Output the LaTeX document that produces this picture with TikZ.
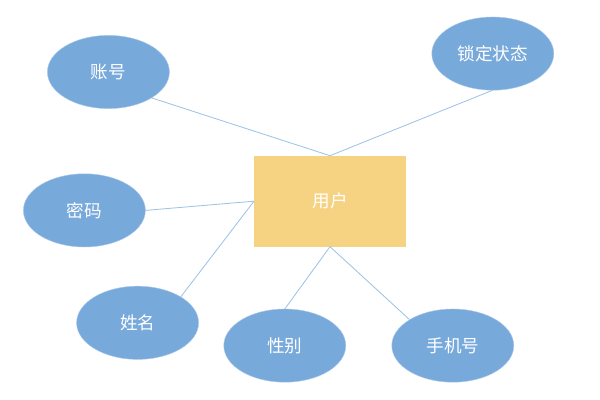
\documentclass[tikz,border=0pt]{standalone}
\usepackage{fontspec}
\newfontfamily\cjk{Noto Sans CJK SC}
\usetikzlibrary{shapes.geometric}
\definecolor{attrblue}{HTML}{78A9DB}
\definecolor{entityyellow}{HTML}{F6D283}
\definecolor{linkblue}{HTML}{9DC3E6}

\begin{document}
\begin{tikzpicture}[
    attr/.style={ellipse, fill=attrblue, draw=attrblue!60!white, line width=0.3pt,
        minimum width=3.05cm, minimum height=1.83cm, inner sep=0pt, outer sep=0pt,
        text=white, font=\cjk\fontsize{12.5}{14}\selectfont},
    entity/.style={rectangle, fill=entityyellow, minimum width=3.8cm,
        minimum height=2.275cm, inner sep=0pt, outer sep=0pt,
        text=white, font=\cjk\fontsize{12.5}{14}\selectfont},
    link/.style={draw=linkblue, line width=0.6pt}
]
            % Page frame
            \useasboundingbox (0,0) rectangle (15,10);

            % Entity
            \node[entity] (user) at (8.25,4.97) {用户};

            % Attributes
            \foreach \nm/\pos/\txt in {account/{2.71,8.2}/账号, lock/{12.32,8.66}/锁定状态,
                    password/{2.11,4.74}/密码, name/{3.44,1.93}/姓名,
                    gender/{7.12,1.36}/性别, phone/{11.32,1.36}/手机号} {
                \node[attr] (\nm) at (\pos) {\txt};
            }

            % Links from attributes to entity
            \foreach \a/\b in {account.south east/user.north, lock.south/user.north,
                    password.east/user.west, name.north east/user.west,
                    gender.north/user.south, phone.north west/user.south} {
                \draw[link] (\a) -- (\b);
            }
        \end{tikzpicture}
\end{document}
